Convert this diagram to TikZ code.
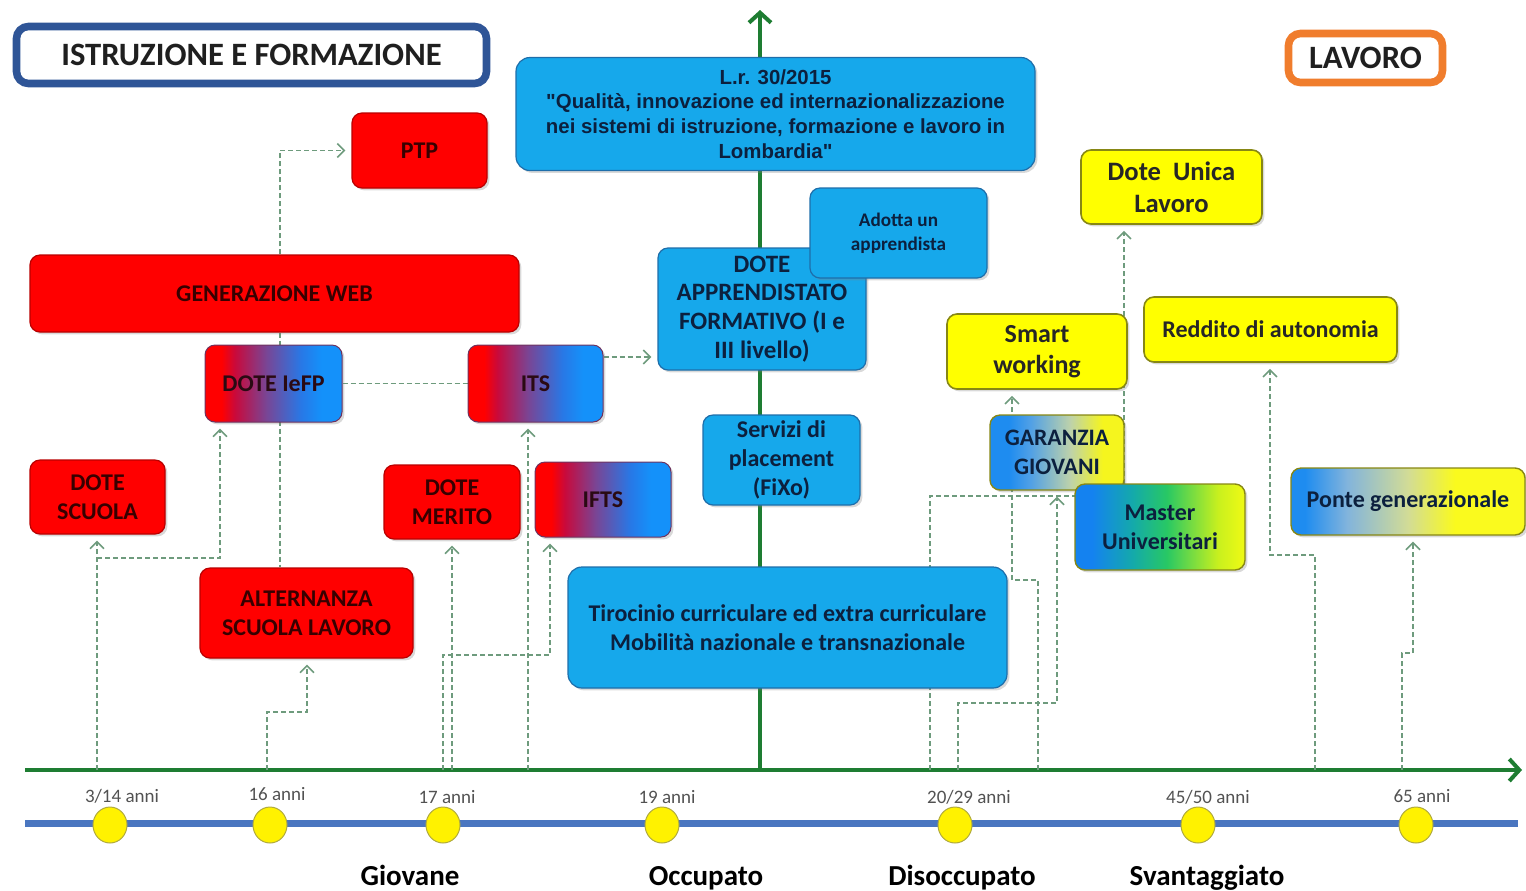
\documentclass[tikz,border=0pt]{standalone}
\usepackage{fontspec}
\setmainfont{Carlito}
\newfontfamily\arialf{Liberation Sans}
\usetikzlibrary{arrows.meta,shadows,backgrounds,shapes.geometric}

\definecolor{boxblue}{RGB}{22,168,235}
\definecolor{boxblueborder}{RGB}{30,110,170}
\definecolor{boxred}{RGB}{255,0,0}
\definecolor{boxredborder}{RGB}{185,0,0}
\definecolor{boxyellow}{RGB}{255,255,0}
\definecolor{yellowborder}{RGB}{135,135,20}
\definecolor{redtext}{RGB}{55,0,0}
\definecolor{bluetext}{RGB}{12,32,62}
\definecolor{conncol}{RGB}{110,155,125}
\definecolor{axisgreen}{RGB}{30,125,50}
\definecolor{tlblue}{RGB}{74,118,192}
\definecolor{titleblue}{RGB}{47,85,151}
\definecolor{orangeb}{RGB}{240,125,45}
\definecolor{gradborder}{RGB}{110,50,95}

\definecolor{rbA}{RGB}{255,0,0}
\definecolor{rbB}{RGB}{200,10,60}
\definecolor{rbC}{RGB}{120,70,150}
\definecolor{rbD}{RGB}{40,120,230}
\definecolor{rbE}{RGB}{20,145,250}
\pgfdeclarehorizontalshading{rbshade}{100bp}{color(0bp)=(rbA); color(25bp)=(rbA); color(31bp)=(rbA); color(36bp)=(rbB); color(47.5bp)=(rbC); color(60bp)=(rbD); color(67.5bp)=(rbE); color(100bp)=(rbE)}

\definecolor{byA}{RGB}{30,140,240}
\definecolor{byB}{RGB}{80,160,230}
\definecolor{byC}{RGB}{190,210,170}
\definecolor{byD}{RGB}{245,245,30}
\pgfdeclarehorizontalshading{byshade}{100bp}{color(0bp)=(byA); color(25bp)=(byA); color(32bp)=(byA); color(40bp)=(byB); color(55bp)=(byC); color(67bp)=(byD); color(100bp)=(byD)}

\definecolor{pgA}{RGB}{30,140,240}
\definecolor{pgB}{RGB}{130,180,220}
\definecolor{pgC}{RGB}{210,220,150}
\definecolor{pgD}{RGB}{250,250,30}
\pgfdeclarehorizontalshading{pgshade}{100bp}{color(0bp)=(pgA); color(25bp)=(pgA); color(28bp)=(pgA); color(37bp)=(pgB); color(50bp)=(pgC); color(60bp)=(pgD); color(100bp)=(pgD)}

\definecolor{msA}{RGB}{20,130,240}
\definecolor{msB}{RGB}{20,170,170}
\definecolor{msC}{RGB}{40,200,100}
\definecolor{msD}{RGB}{200,240,30}
\definecolor{msE}{RGB}{240,250,20}
\pgfdeclarehorizontalshading{msshade}{100bp}{color(0bp)=(msA); color(25bp)=(msA); color(30bp)=(msA); color(42bp)=(msB); color(52bp)=(msC); color(67bp)=(msD); color(75bp)=(msE); color(100bp)=(msE)}

\tikzset{
  box/.style={rounded corners=5pt, align=center, inner sep=2pt,
    drop shadow={opacity=0.3, shadow xshift=1.2pt, shadow yshift=-1.2pt},
    font=\bfseries\fontsize{12}{14.5}\selectfont},
  redbox/.style={box, fill=boxred, draw=boxredborder, line width=0.6pt, text=redtext},
  bluebox/.style={box, fill=boxblue, draw=boxblueborder, line width=0.6pt, text=bluetext},
  yellowbox/.style={box, fill=boxyellow, draw=yellowborder, line width=0.8pt, text=black!85},
  rbbox/.style={box, shading=rbshade, draw=gradborder, line width=0.5pt, text=redtext!70!bluetext},
  bybox/.style={box, shading=#1, draw=yellowborder, line width=0.7pt, text=bluetext},
  conn/.style={draw=conncol, line width=0.8pt, dash pattern=on 2.5pt off 1.5pt},
  conna/.style={conn, -{Straight Barb[length=3.5pt,width=7pt]}, shorten >=3pt},
  greenarrow/.style={draw=axisgreen, line width=2pt, -{Straight Barb[length=5pt,width=11pt]}},
  agelbl/.style={font=\fontsize{9.5}{11}\selectfont, text=black!68},
  catlbl/.style={font=\bfseries\fontsize{14.5}{17}\selectfont, text=black, inner sep=0pt},
  dot/.style={ellipse, minimum width=17pt, minimum height=18pt, inner sep=0pt, fill=yellow, draw=black!35!yellow, line width=0.5pt}
}

\begin{document}
\begin{tikzpicture}[x=0.5pt,y=-0.5pt]
\useasboundingbox (0,0) rectangle (1526,890);

% headers
\node[draw=titleblue, line width=3.8pt, rounded corners=6pt, fill=white,
  minimum width=235pt, minimum height=28.5pt, inner sep=0pt,
  font=\bfseries\fontsize{16.3}{18}\selectfont, text=black!88] (tit) at (251.5,55) {ISTRUZIONE E FORMAZIONE};
\node[draw=orangeb, line width=3.8pt, rounded corners=6pt, fill=white,
  minimum width=77pt, minimum height=24.5pt, inner sep=0pt,
  font=\bfseries\fontsize{16.3}{18}\selectfont, text=black!88] (lav) at (1365.5,58) {LAVORO};

% axes coordinates
\coordinate (ax0) at (25,770);
\coordinate (ax1) at (1522,770);
\coordinate (vb) at (760,770);
\coordinate (vt) at (760,10);
\foreach \x in {97,267,443,452,528,930,958,1038,1315,1402} {\coordinate (a\x) at (\x,770);}
\foreach \x in {220,280,307,550,1012,1057,1124,1270,1413} {\coordinate (x\x) at (\x,0);}
\foreach \y in {357,496,555,558,580,653,655,703,712} {\coordinate (y\y) at (0,\y);}

% boxes - left
\node[redbox, minimum width=67.5pt, minimum height=37.5pt] (ptp) at (419.5,150.5) {PTP};
\node[redbox, minimum width=244.5pt, minimum height=38.5pt] (genweb) at (274.5,293.5) {GENERAZIONE WEB};
\node[rbbox, minimum width=68.5pt, minimum height=38.5pt] (iefp) at (273.5,383.5) {DOTE IeFP};
\node[rbbox, minimum width=67.5pt, minimum height=38.5pt] (its) at (535.5,383.5) {ITS};
\node[redbox, minimum width=67.5pt, minimum height=37pt] (scuola) at (97.5,497) {DOTE\\SCUOLA};
\node[redbox, minimum width=68pt, minimum height=37pt] (merito) at (452,502) {DOTE\\MERITO};
\node[rbbox, minimum width=68pt, minimum height=37.5pt] (ifts) at (603,499.5) {IFTS};
\node[redbox, minimum width=106.5pt, minimum height=45pt] (alt) at (306.5,613) {ALTERNANZA\\SCUOLA LAVORO};

% boxes - centre
\node[bluebox, minimum width=259.5pt, minimum height=56.5pt, rounded corners=7pt,
  font=\arialf\bfseries\fontsize{10.2}{12.4}\selectfont] (lr) at (775.5,114)
  {L.r. 30/2015\\"Qualità, innovazione ed internazionalizzazione\\nei sistemi di istruzione, formazione e lavoro in\\Lombardia"};
\node[bluebox, minimum width=104pt, minimum height=61pt, font=\bfseries\fontsize{12.5}{14.4}\selectfont] (dap) at (762,309)
  {DOTE\\APPRENDISTATO\\FORMATIVO (I e\\III livello)};
\node[bluebox, minimum width=88.5pt, minimum height=45pt, font=\bfseries\fontsize{9.6}{12}\selectfont] (adotta) at (898.5,233)
  {Adotta un\\apprendista};
\node[bluebox, minimum width=78.5pt, minimum height=45pt] (serv) at (781.5,460)
  {Servizi di\\placement\\(FiXo)};
\node[bluebox, minimum width=219.5pt, minimum height=60.5pt, rounded corners=7pt] (tiro) at (787.5,627.5)
  {Tirocinio curriculare ed extra curriculare\\Mobilità nazionale e transnazionale};

% boxes - right
\node[yellowbox, minimum width=90.5pt, minimum height=37pt, font=\bfseries\fontsize{13.3}{16}\selectfont] (dul) at (1171.5,187)
  {Dote\ \ Unica\\Lavoro};
\node[yellowbox, minimum width=90pt, minimum height=37.5pt, font=\bfseries\fontsize{13}{15.5}\selectfont] (smart) at (1037,351.5)
  {Smart\\working};
\node[yellowbox, minimum width=126.5pt, minimum height=32.5pt, font=\bfseries\fontsize{12}{14}\selectfont] (red) at (1270.5,329.5)
  {Reddito di autonomia};
\node[bybox=byshade, minimum width=67pt, minimum height=37.5pt, font=\bfseries\fontsize{11.8}{14.5}\selectfont] (gar) at (1057,452.5)
  {GARANZIA\\GIOVANI};
\node[bybox=msshade, minimum width=85pt, minimum height=43pt, font=\bfseries\fontsize{12}{14.5}\selectfont] (mast) at (1160,527)
  {Master\\Universitari};
\node[bybox=pgshade, minimum width=117pt, minimum height=33.5pt, font=\bfseries\fontsize{12}{14}\selectfont] (ponte) at (1408,501.5)
  {Ponte generazionale};

% connectors and axes behind boxes
\begin{scope}[on background layer]
  \draw[greenarrow] (vb) -- (vt);
  \draw[greenarrow] (ax0) -- (ax1);
  % left
  \draw[conna] (genweb.north -| x280) |- (ptp.west);
  \draw[conn] (genweb.south -| x280) -- (alt.north -| x280);
  \draw[conn] (iefp.east) -- (its.west);
  \draw[conna] (its.east |- y357) -- (dap.west |- y357);
  \draw[conna] (a97) -- (a97 |- scuola.south);
  \draw[conna] (a97 |- y558) -| (x220 |- iefp.south);
  \draw[conna] (a267) |- (x307 |- y712) -- (x307 |- alt.south);
  \draw[conna] (a443) |- (x550 |- y655) -- (x550 |- ifts.south);
  \draw[conna] (a452) -- (a452 |- merito.south);
  \draw[conna] (a528) -- (a528 |- its.south);
  % right
  \draw[conna] (a930) |- (x1124 |- y496) -- (x1124 |- dul.south);
  \draw[conna] (a958) |- (x1057 |- y703) -- (x1057 |- gar.south);
  \draw[conna] (a1038) |- (x1012 |- y580) -- (x1012 |- smart.south);
  \draw[conna] (a1315) |- (x1270 |- y555) -- (x1270 |- red.south);
  \draw[conna] (a1402) |- (x1413 |- y653) -- (x1413 |- ponte.south);
\end{scope}

% timeline
\coordinate (t0) at (25,823);
\coordinate (t1) at (1518,823);
\draw[tlblue, line width=3.5pt] (t0) -- (t1);
\node[dot] (d1) at (110,825) {};
\node[dot] (d2) at (270,825) {};
\node[dot] (d3) at (443,825) {};
\node[dot] (d4) at (662,825) {};
\node[dot] (d5) at (955,825) {};
\node[dot] (d6) at (1198,825) {};
\node[dot] (d7) at (1416,825) {};

\node[agelbl] (l1) at (122,796) {3/14 anni};
\node[agelbl] (l2) at (277,794) {16 anni};
\node[agelbl] (l3) at (447,797) {17 anni};
\node[agelbl] (l4) at (667,797) {19 anni};
\node[agelbl] (l5) at (969,797) {20/29 anni};
\node[agelbl] (l6) at (1208,797) {45/50 anni};
\node[agelbl] (l7) at (1422,796) {65 anni};

\node[catlbl, anchor=base] (g1) at (410,885) {Giovane};
\node[catlbl, anchor=base] (g2) at (706,885) {Occupato};
\node[catlbl, anchor=base] (g3) at (962,885) {Disoccupato};
\node[catlbl, anchor=base] (g4) at (1207,885) {Svantaggiato};
\end{tikzpicture}
\end{document}
